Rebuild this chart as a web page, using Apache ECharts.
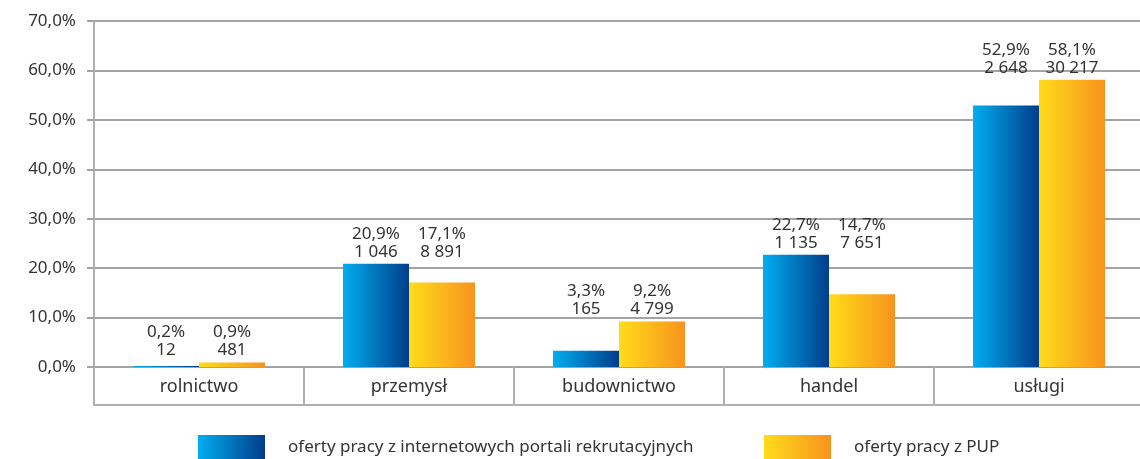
<!DOCTYPE html>
<html>
<head>
<meta charset="utf-8">
<script src="https://cdn.jsdelivr.net/npm/echarts@6/dist/echarts.min.js"></script>
<style>
  html, body { margin: 0; padding: 0; background: #fff; overflow: hidden; }
  #chart { width: 1144px; height: 459px; }
</style>
</head>
<body>
<div id="chart"></div>
<script>
const categories = ['rolnictwo', 'przemysł', 'budownictwo', 'handel', 'usługi'];
const seriesNames = ['oferty pracy z internetowych portali rekrutacyjnych', 'oferty pracy z PUP'];
const portalPct = [0.2, 20.9, 3.3, 22.7, 52.9];
const portalCount = [12, 1046, 165, 1135, 2648];
const pupPct = [0.9, 17.1, 9.2, 14.7, 58.1];
const pupCount = [481, 8891, 4799, 7651, 30217];
const yTicks = [0, 10, 20, 30, 40, 50, 60, 70];

const FONT = 'Noto Sans';
const TEXT = '#333333';
const GRID = '#a3a3a3';

function fmtPct(v) { return v.toFixed(1).replace('.', ',') + '%'; }
function fmtCount(n) { return String(n).replace(/\B(?=(\d{3})+(?!\d))/g, ' '); }

const chart = echarts.init(document.getElementById('chart'), null, { renderer: 'canvas' });

function makeLabelLayout(params) {
  const i = params.dataIndex;
  const topVal = Math.max(portalPct[i], pupPct[i]);
  const topY = chart.convertToPixel({ yAxisIndex: 0 }, topVal);
  return {
    x: params.rect.x + params.rect.width / 2,
    y: topY - 3,
    align: 'center',
    verticalAlign: 'bottom'
  };
}

const blueGrad = new echarts.graphic.LinearGradient(0, 0, 1, 0, [
  { offset: 0, color: '#00aeef' },
  { offset: 1, color: '#003d8b' }
]);
const yellowGrad = new echarts.graphic.LinearGradient(0, 0, 1, 0, [
  { offset: 0, color: '#ffdc1a' },
  { offset: 1, color: '#f7931e' }
]);

const labelCommon = {
  show: true,
  position: 'top',
  fontFamily: FONT,
  fontSize: 17,
  lineHeight: 18,
  color: TEXT
};

chart.setOption({
  animation: false,
  textStyle: { fontFamily: FONT },
  grid: { left: 94, right: 0, top: 21, bottom: 92, containLabel: false },
  legend: [
    {
      data: [seriesNames[0]],
      left: 198, top: 435, padding: 0,
      itemWidth: 67, itemHeight: 24,
      icon: 'rect',
      textStyle: { fontFamily: FONT, fontSize: 17, color: TEXT, padding: [0, 0, 0, 18] }
    },
    {
      data: [seriesNames[1]],
      left: 764, top: 435, padding: 0,
      itemWidth: 67, itemHeight: 24,
      icon: 'rect',
      textStyle: { fontFamily: FONT, fontSize: 17, color: TEXT, padding: [0, 0, 0, 18] }
    }
  ],
  xAxis: [
    {
      type: 'category',
      data: categories,
      boundaryGap: true,
      axisLine: { show: true, lineStyle: { color: GRID, width: 2 } },
      axisTick: { show: true, length: 38, lineStyle: { color: '#b0b0b0', width: 2 } },
      axisLabel: { fontFamily: FONT, fontSize: 18, color: TEXT, margin: 11 }
    },
    {
      type: 'category',
      data: categories,
      position: 'bottom',
      offset: 38,
      axisLine: { show: true, lineStyle: { color: '#b0b0b0', width: 2 } },
      axisTick: { show: false },
      axisLabel: { show: false }
    }
  ],
  yAxis: {
    type: 'value',
    min: yTicks[0],
    max: yTicks[yTicks.length - 1],
    interval: 10,
    axisLine: { show: true, lineStyle: { color: '#b0b0b0', width: 2 } },
    axisTick: { show: true, length: 7, lineStyle: { color: GRID, width: 2 } },
    splitLine: { show: true, lineStyle: { color: GRID, width: 2 } },
    axisLabel: {
      fontFamily: FONT, fontSize: 17, color: TEXT, margin: 18,
      formatter: function (v) { return fmtPct(v); }
    }
  },
  series: [
    {
      name: seriesNames[0],
      type: 'bar',
      xAxisIndex: 0,
      data: portalPct,
      barWidth: 66,
      barGap: '0%',
      itemStyle: { color: blueGrad },
      label: Object.assign({}, labelCommon, {
        formatter: function (p) { return fmtPct(portalPct[p.dataIndex]) + '\n' + fmtCount(portalCount[p.dataIndex]); }
      }),
      labelLayout: makeLabelLayout
    },
    {
      name: seriesNames[1],
      type: 'bar',
      xAxisIndex: 0,
      data: pupPct,
      barWidth: 66,
      barGap: '0%',
      itemStyle: { color: yellowGrad },
      label: Object.assign({}, labelCommon, {
        formatter: function (p) { return fmtPct(pupPct[p.dataIndex]) + '\n' + fmtCount(pupCount[p.dataIndex]); }
      }),
      labelLayout: makeLabelLayout
    }
  ]
});
</script>
</body>
</html>
